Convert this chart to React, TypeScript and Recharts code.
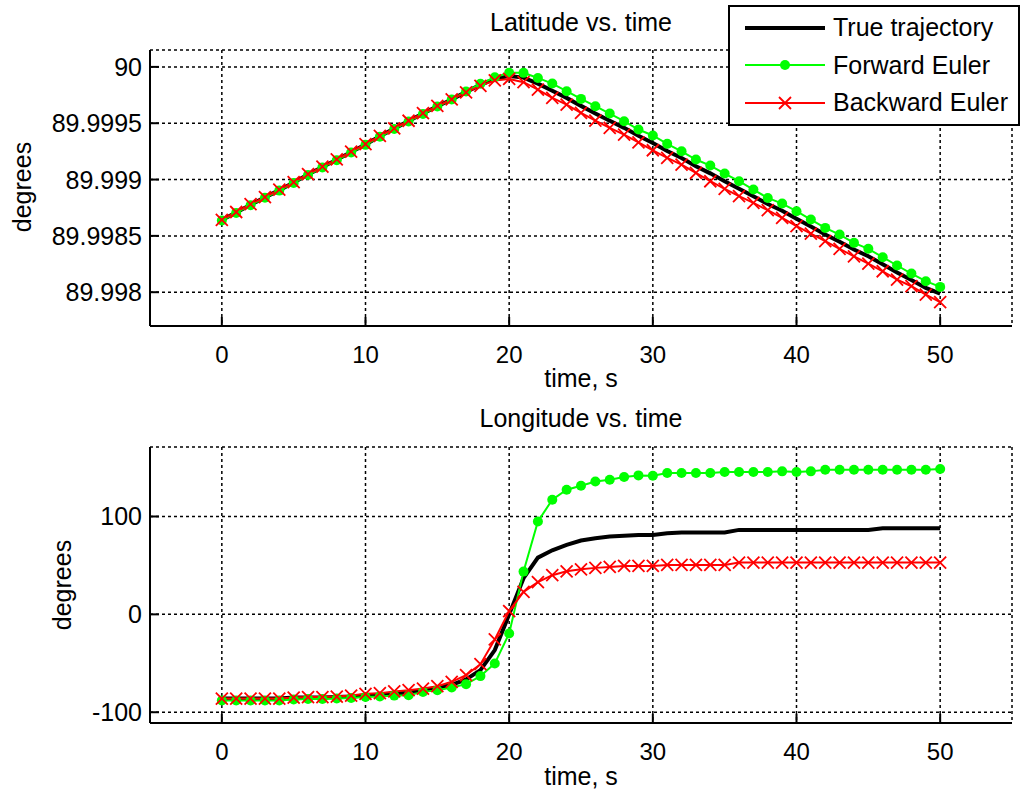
import { LineChart, Line, XAxis, YAxis, CartesianGrid, Legend } from 'recharts';

const FONT = '"Liberation Sans", Arial, Helvetica, sans-serif';

// time samples, s
const time = [
  0, 1, 2, 3, 4, 5, 6, 7, 8, 9, 10, 11, 12, 13, 14, 15, 16, 17, 18, 19, 20, 21, 22, 23, 24, 25,
  26, 27, 28, 29, 30, 31, 32, 33, 34, 35, 36, 37, 38, 39, 40, 41, 42, 43, 44, 45, 46, 47, 48, 49, 50,
];

// latitude, degrees
const latTrue = [
  89.99864, 89.998708, 89.998777, 89.998842, 89.998906, 89.998974, 89.999044, 89.999112, 89.999176,
  89.999244, 89.999312, 89.999384, 89.999452, 89.999519, 89.999586, 89.999651, 89.999711, 89.999778,
  89.99984, 89.999893, 89.99992, 89.999905, 89.999851, 89.999788, 89.999725, 89.999654, 89.999587,
  89.999522, 89.999459, 89.999388, 89.999325, 89.999254, 89.999192, 89.999118, 89.999055, 89.998985,
  89.998919, 89.998852, 89.998783, 89.998723, 89.998652, 89.998583, 89.998512, 89.998448, 89.998379,
  89.998319, 89.998249, 89.998175, 89.998109, 89.998038, 89.997988,
];
const latForward = [
  89.998636, 89.998704, 89.998772, 89.998838, 89.998902, 89.99897, 89.99904, 89.999108, 89.999172,
  89.99924, 89.999308, 89.99938, 89.999448, 89.999516, 89.999582, 89.999648, 89.99971, 89.999782,
  89.99985, 89.999908, 89.999947, 89.999947, 89.999902, 89.999852, 89.999784, 89.999716, 89.999651,
  89.999586, 89.999518, 89.999444, 89.999391, 89.999317, 89.999251, 89.999178, 89.999124, 89.999053,
  89.998985, 89.998911, 89.998837, 89.998787, 89.998719, 89.998645, 89.998571, 89.998512, 89.998438,
  89.998385, 89.998311, 89.998237, 89.998166, 89.998098, 89.998047,
];
const latBackward = [
  89.998643, 89.998712, 89.998781, 89.998845, 89.99891, 89.998978, 89.999048, 89.999115, 89.99918,
  89.999248, 89.999315, 89.999388, 89.999455, 89.999522, 89.999589, 89.999653, 89.999712, 89.999774,
  89.999832, 89.99988, 89.999893, 89.999864, 89.999799, 89.999725, 89.999666, 89.999592, 89.999524,
  89.999459, 89.999399, 89.999331, 89.99926, 89.999192, 89.999133, 89.999059, 89.998985, 89.998917,
  89.998852, 89.998793, 89.998728, 89.99866, 89.998586, 89.99852, 89.998453, 89.998385, 89.998319,
  89.998254, 89.998186, 89.998112, 89.998053, 89.997979, 89.997911,
];

// longitude, degrees
const lonTrue = [
  -86, -86, -86, -86, -86, -85, -85, -85, -84.5, -84, -83, -82, -81, -79.5, -77.5, -75, -72, -66.5,
  -57, -36.5, 0, 37, 58, 65.5, 71, 75.5, 77.8, 79.5, 80.2, 81.2, 81.2, 82.9, 83.6, 83.6, 83.6, 83.6,
  86.3, 86.3, 86.3, 86.3, 86.3, 86.3, 86.3, 86.3, 86.3, 86.3, 88, 88, 88, 88, 88,
];
const lonForward = [
  -88, -88, -88, -88, -88, -87, -86.5, -86.5, -86, -85.5, -84.5, -84, -83, -82.6, -79.2, -77.5, -74.7,
  -71.3, -63.1, -50.2, -19.5, 43.7, 94.9, 117.1, 127.3, 131.4, 135.8, 137.5, 140.3, 142, 141.6, 144.4,
  144.4, 144.4, 144.4, 145.4, 145.4, 145.4, 145.4, 146.1, 145.4, 146.1, 147.8, 147.8, 147.8, 147.8,
  147.8, 147.8, 147.8, 147.8, 148.5,
];
const lonBackward = [
  -86, -86, -86, -86, -86, -85, -84.5, -84.5, -84, -83, -81.2, -80.5, -78.8, -77.5, -75.8, -73.4,
  -68.9, -62.1, -50.9, -25.6, 3.4, 23, 33, 40, 44, 46, 47.5, 48.5, 49.5, 49.5, 49.5, 50.5, 50.5, 50.5,
  50.5, 50.5, 52.9, 52.9, 52.9, 52.9, 52.9, 52.9, 52.9, 52.9, 52.9, 52.9, 52.9, 52.9, 52.9, 52.9, 52.9,
];

const xTicks = [0, 10, 20, 30, 40, 50];
const latTicks = [89.998, 89.9985, 89.999, 89.9995, 90];
const lonTicks = [-100, 0, 100];
const legendOrder = ['truth', 'forward', 'backward'];

const latData = time.map((t, i) => ({
  t,
  truth: latTrue[i],
  forward: latForward[i],
  backward: latBackward[i],
}));
const lonData = time.map((t, i) => ({
  t,
  truth: lonTrue[i],
  forward: lonForward[i],
  backward: lonBackward[i],
}));

const XTick = (p: any) => {
  const { x, y, payload } = p;
  return (
    <g>
      <line x1={x} x2={x} y1={y} y2={y - 9} stroke="#000" strokeWidth={2} />
      <text x={x} y={y + 28} textAnchor="middle" dominantBaseline="central"
        fontSize={24} fontFamily={FONT} fill="#000">
        {payload.value}
      </text>
    </g>
  );
};

const YTick = (p: any) => {
  const { x, y, payload } = p;
  return (
    <g>
      <line x1={x} x2={x + 9} y1={y} y2={y} stroke="#000" strokeWidth={2} />
      <text x={x - 8} y={y} textAnchor="end" dominantBaseline="central"
        fontSize={25} fontFamily={FONT} fill="#000">
        {String(payload.value)}
      </text>
    </g>
  );
};

const Cross = (p: any) => {
  const { cx, cy, index } = p;
  if (cx == null || cy == null) return <g key={index} />;
  const s = 6;
  return (
    <path key={index} d={`M${cx - s},${cy - s}L${cx + s},${cy + s}M${cx - s},${cy + s}L${cx + s},${cy - s}`}
      stroke="#ff0000" strokeWidth={1.8} fill="none" />
  );
};

// MATLAB style boxed legend
const LegendBox = (props: any) => {
  const items = [...(props.payload || [])].sort(
    (a: any, b: any) => legendOrder.indexOf(a.dataKey) - legendOrder.indexOf(b.dataKey),
  );
  return (
    <div style={{
      width: 292, height: 121, boxSizing: 'border-box', border: '2px solid #000', background: '#fff',
      paddingTop: 2, fontFamily: FONT, fontSize: 25,
    }}>
      {items.map((it: any) => (
        <div key={it.dataKey} style={{ display: 'flex', alignItems: 'center', height: 37.5 }}>
          <svg width={100} height={36} style={{ flex: 'none' }}>
            <line x1={15} x2={95} y1={18} y2={18} stroke={it.color}
              strokeWidth={it.dataKey === 'truth' ? 4 : 2} />
            {it.dataKey === 'forward' && <circle cx={55} cy={18} r={5} fill="#00ff00" />}
            {it.dataKey === 'backward' && (
              <path d="M49,12L61,24M49,24L61,12" stroke="#ff0000" strokeWidth={1.8} />
            )}
          </svg>
          <span style={{ marginLeft: 3, color: '#000' }}>{it.value}</span>
        </div>
      ))}
    </div>
  );
};

const textStyle: any = {
  position: 'absolute', fontFamily: FONT, fontSize: 25, color: '#000', textAlign: 'center',
  height: 28, lineHeight: '28px', whiteSpace: 'nowrap',
};

const gridProps = { stroke: '#000', strokeDasharray: '3 3', strokeWidth: 1.5 };

const Panel = ({ data, domain, ticks, legend }: any) => (
  <LineChart width={1022} height={397} data={data} margin={{ top: 50, right: 10, bottom: 0, left: 0 }}>
    <CartesianGrid {...gridProps} />
    <XAxis dataKey="t" type="number" domain={[-5, 55]} ticks={xTicks} interval={0} height={71}
      tickSize={0} tickMargin={0} tick={XTick} axisLine={{ stroke: '#000', strokeWidth: 2 }} />
    <YAxis type="number" domain={domain} ticks={ticks} interval={0} width={150} allowDataOverflow
      tickSize={0} tickMargin={0} tick={YTick} axisLine={{ stroke: '#000', strokeWidth: 2 }} />
    {legend && (
      <Legend layout="vertical" align="center" verticalAlign="middle" content={LegendBox}
        wrapperStyle={{ left: 728, top: 5, width: 292, height: 121 }} />
    )}
    <Line dataKey="truth" name="True trajectory" type="linear" stroke="#000" strokeWidth={4}
      dot={false} isAnimationActive={false} />
    <Line dataKey="forward" name="Forward Euler" type="linear" stroke="#00ff00" strokeWidth={2}
      dot={{ r: 5, fill: '#00ff00', stroke: 'none' }} isAnimationActive={false} />
    <Line dataKey="backward" name="Backward Euler" type="linear" stroke="#ff0000" strokeWidth={2}
      dot={Cross} isAnimationActive={false} />
  </LineChart>
);

export default function App() {
  return (
    <div style={{ position: 'absolute', left: 0, top: 0, width: 1022, height: 794, background: '#fff' }}>
      <div style={{ position: 'absolute', left: 0, top: 0 }}>
        <Panel data={latData} domain={[89.9977, 90.00015]} ticks={latTicks} legend />
      </div>
      <div style={{ position: 'absolute', left: 0, top: 397 }}>
        <Panel data={lonData} domain={[-111, 171]} ticks={lonTicks} />
      </div>

      <div style={{ ...textStyle, left: 150, width: 862, top: 8 }}>Latitude vs. time</div>
      <div style={{ ...textStyle, left: 150, width: 862, top: 364 }}>time, s</div>
      <div style={{ ...textStyle, left: -38, width: 120, top: 173, transform: 'rotate(-90deg)' }}>degrees</div>

      <div style={{ ...textStyle, left: 150, width: 862, top: 404 }}>Longitude vs. time</div>
      <div style={{ ...textStyle, left: 150, width: 862, top: 762 }}>time, s</div>
      <div style={{ ...textStyle, left: 2, width: 120, top: 571, transform: 'rotate(-90deg)' }}>degrees</div>
    </div>
  );
}
